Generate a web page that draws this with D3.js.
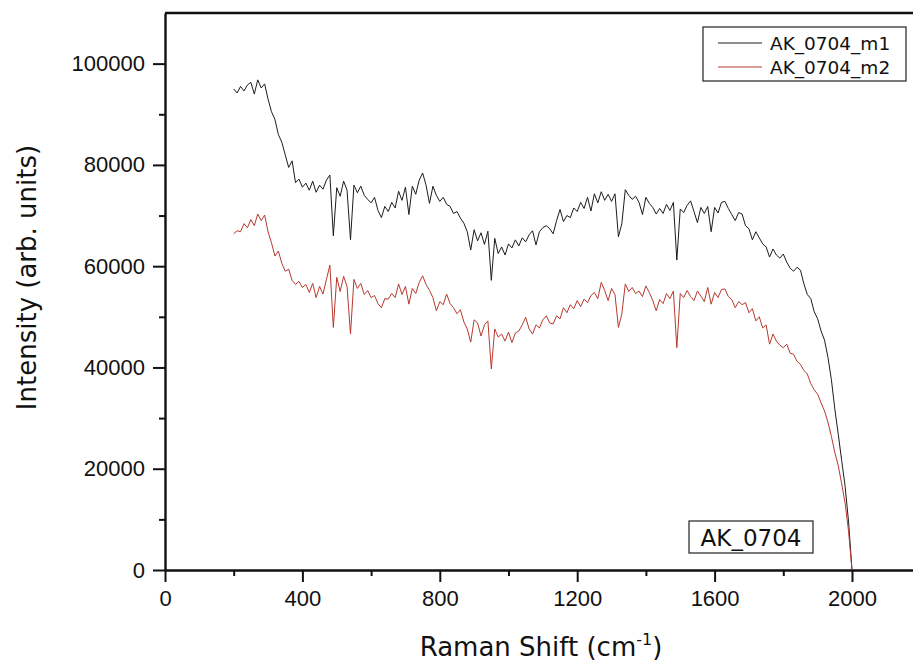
<!DOCTYPE html>
<html>
<head>
<meta charset="utf-8">
<script src="https://cdn.jsdelivr.net/npm/d3@7"></script>
<style>
  body { margin: 0; background: #fff; }
  #ramanChart { width: 913px; height: 661px; }
</style>
</head>
<body>
<div id="ramanChart"></div>
<script>
// sampling grid of the spectra (cm-1), one point every 10
var ramanShift = d3.range(200, 2001, 10);

// AK_0704_m1 intensities, 200 .. 2000 cm-1
var seriesM1 = [
  95000, 94200, 95500, 94600, 95800, 96300, 94000, 96800, 95200, 96000,
  93000, 90500, 89000, 86000, 84500, 82000, 79500, 80800, 76500, 77200,
  75600, 76400, 75000, 76800, 74600, 76000, 75200, 77000, 78000, 66000,
  75500, 73800, 76800, 75000, 65200, 76000, 74500, 75800, 74000, 73200,
  72500, 73600, 71000, 69600, 71800, 70800, 72600, 71500, 74800, 73000,
  75600, 70200, 75800, 74200, 77000, 78400, 76000, 72400, 75800, 74000,
  72800, 73600, 72200, 71800, 70400, 70800, 69500, 68500, 66800, 63200,
  67200, 65000, 66600, 64300, 66900, 57200, 65500, 62500, 63800, 62200,
  64400, 63600, 65200, 64000, 65600, 64800, 66200, 67000, 64200, 66800,
  67600, 68000, 67400, 66400, 69000, 71200, 68800, 70000, 69600, 71500,
  70800, 72600, 71400, 73600, 70900, 74300, 72500, 74700, 73000, 74200,
  72800, 74300, 65800, 68400, 75100, 74000, 73200, 73800, 72600, 70200,
  73600, 72400, 71600, 70300, 71400, 70400, 72200, 71000, 72600, 61200,
  71300, 70600, 72000, 72900, 70800, 68600, 71600, 70400, 71800, 66800,
  71600, 70500, 72600, 72800, 71400, 70200, 69000, 70600, 70300, 68000,
  67400, 65200, 66800, 65600, 64400, 63800, 61800, 63400, 62200, 61600,
  62400, 60800, 59600, 59000, 59800, 59200, 56500, 54400, 53600, 51000,
  49600, 47200, 45400, 42000, 37600, 31800, 26800, 21600, 16500, 9500,
  0
];

// AK_0704_m2 intensities, 200 .. 2000 cm-1
var seriesM2 = [
  66400, 67000, 66800, 68400, 67600, 69200, 68000, 70300, 69000, 70100,
  66800, 64600, 62000, 63000, 60600, 59000, 59400, 57200, 56400, 57000,
  55800, 56400, 54800, 56600, 53800, 56000, 54500, 57400, 60200, 47900,
  57800, 55000, 58000, 56000, 46600, 57400, 55600, 56600, 54400, 55200,
  53800, 54200, 52600, 51800, 53600, 53500, 54600, 53800, 56500, 54400,
  56000, 52500, 55600, 54600, 56800, 58100, 56400, 55200, 53800, 51200,
  53000, 52400, 54500, 52600, 51800, 50600, 51400, 49000, 47600, 45000,
  49400, 48800, 46200, 48400, 49200, 39700, 47600, 46000, 46600, 45200,
  47000, 44900, 46800, 47200, 48400, 49900, 47600, 46600, 48400, 47800,
  49400, 50200, 48800, 48600, 50200, 49600, 51800, 50800, 52400, 51600,
  53200, 52000, 53500, 52800, 54200, 54800, 53600, 56800, 55200, 53200,
  55600, 54400, 47900, 50600, 56500, 55000, 55800, 54600, 55100, 54000,
  56100, 54800, 53200, 51200, 53400, 52600, 54600, 53600, 55100, 43900,
  54600, 53800, 55200, 54000, 53200, 55100, 54100, 53000, 55800, 52500,
  54800, 53800, 55400, 55500, 54000, 53400, 51800, 53000, 52400, 52800,
  50800, 51600, 49200, 50000, 47800, 48400, 44600, 46600, 45200, 44400,
  43900, 44600, 42800, 42600, 41200, 40600, 39400, 38700, 36800, 35600,
  34700, 33000, 31400, 29200, 26400, 23200, 20600, 17000, 13200, 7600,
  0
];

var seriesNames = ["AK_0704_m1", "AK_0704_m2"];
var seriesColors = ["#1c1c1c", "#b8392f"];
var xTicks = [0, 400, 800, 1200, 1600, 2000];
var yTicks = [0, 20000, 40000, 60000, 80000, 100000];
var sampleLabel = "AK_0704";

var width = 913;
var height = 661;
var margin = { top: 13, left: 165, bottom: 91 };

var svg = d3.select("#ramanChart")
  .append("svg")
  .attr("width", width)
  .attr("height", height)
  .style("font-family", "'Liberation Sans', Arial, sans-serif");

var plotBottom = height - margin.bottom;

var xscale = d3.scaleLinear()
  .domain([0, 2200])
  .range([margin.left, margin.left + 2200 * 0.3435]);

var yscale = d3.scaleLinear()
  .domain([0, 110000])
  .range([plotBottom, margin.top]);   // reversed

// top frame line
svg.append("line")
  .attr("x1", margin.left).attr("x2", width)
  .attr("y1", margin.top).attr("y2", margin.top)
  .style("stroke", "#111").style("stroke-width", "2.4px");

// minor ticks first, majors on top
svg.append("g")
  .attr("transform", "translate(0," + plotBottom + ")")
  .call(d3.axisBottom(xscale).tickValues(d3.range(200, 2200, 400)).tickSize(6).tickFormat(""))
  .call(function (g) { g.select(".domain").remove(); })
  .selectAll("line").style("stroke", "#111").style("stroke-width", "2px");

svg.append("g")
  .attr("transform", "translate(" + margin.left + ",0)")
  .call(d3.axisLeft(yscale).tickValues(d3.range(10000, 110000, 20000)).tickSize(6).tickFormat(""))
  .call(function (g) { g.select(".domain").remove(); })
  .selectAll("line").style("stroke", "#111").style("stroke-width", "2px");

var x_axis = svg.append("g")
  .attr("transform", "translate(0," + plotBottom + ")")
  .call(d3.axisBottom(xscale).tickValues(xTicks).tickFormat(d3.format("d"))
    .tickSize(12).tickPadding(8).tickSizeOuter(0));

var y_axis = svg.append("g")
  .attr("transform", "translate(" + margin.left + ",0)")
  .call(d3.axisLeft(yscale).tickValues(yTicks).tickFormat(d3.format("d"))
    .tickSize(12).tickPadding(8).tickSizeOuter(0));

[x_axis, y_axis].forEach(function (ax) {
  ax.select(".domain").style("stroke", "#111").style("stroke-width", "2.4px");
  ax.selectAll(".tick line").style("stroke", "#111").style("stroke-width", "2px");
  ax.selectAll(".tick text")
    .attr("fill", "#111")
    .style("font-size", "22px")
    .style("font-family", "'Liberation Sans', Arial, sans-serif");
});

// spectra
var line = d3.line()
  .x(function (d) { return xscale(d.x); })
  .y(function (d) { return yscale(d.y); });

[seriesM1, seriesM2].forEach(function (vals, i) {
  var pts = ramanShift.map(function (r, j) { return { x: r, y: vals[j] }; });
  svg.append("path")
    .datum(pts)
    .attr("fill", "none")
    .attr("stroke", seriesColors[i])
    .attr("stroke-width", 1)
    .attr("stroke-linejoin", "round")
    .attr("d", line);
});

// axis titles
svg.append("text")
  .attr("transform", "translate(36," + ((margin.top + plotBottom) / 2 - 14) + ") rotate(-90)")
  .attr("text-anchor", "middle")
  .style("font-family", "'DejaVu Sans', Verdana, sans-serif")
  .style("font-size", "26px")
  .attr("fill", "#111")
  .text("Intensity (arb. units)");

var xt = svg.append("text")
  .attr("x", 541)
  .attr("y", 656)
  .attr("text-anchor", "middle")
  .style("font-family", "'DejaVu Sans', Verdana, sans-serif")
  .style("font-size", "26px")
  .attr("fill", "#111");
xt.append("tspan").text("Raman Shift (cm");
xt.append("tspan").attr("dy", -11).style("font-size", "16px").text("-1");
xt.append("tspan").attr("dy", 11).text(")");

// legend
var legend = svg.append("g").attr("transform", "translate(703,27)");
legend.append("rect")
  .attr("width", 203).attr("height", 54)
  .attr("fill", "#fff").attr("stroke", "#222").attr("stroke-width", 1.2);
seriesNames.forEach(function (name, i) {
  var ly = 16 + i * 24;
  legend.append("line")
    .attr("x1", 15).attr("x2", 59).attr("y1", ly).attr("y2", ly)
    .attr("stroke", seriesColors[i]).attr("stroke-width", 1);
  legend.append("text")
    .attr("x", 67).attr("y", ly + 7)
    .style("font-family", "'DejaVu Sans', Verdana, sans-serif")
    .style("font-size", "18.5px")
    .attr("fill", "#111")
    .text(name);
});

// sample label box
var tag = svg.append("g").attr("transform", "translate(689,521)");
tag.append("rect")
  .attr("width", 124).attr("height", 32)
  .attr("fill", "#fff").attr("stroke", "#222").attr("stroke-width", 1.2);
tag.append("text")
  .attr("x", 62).attr("y", 25)
  .attr("text-anchor", "middle")
  .style("font-family", "'DejaVu Sans', Verdana, sans-serif")
  .style("font-size", "23px")
  .attr("fill", "#111")
  .text(sampleLabel);
</script>
</body>
</html>
